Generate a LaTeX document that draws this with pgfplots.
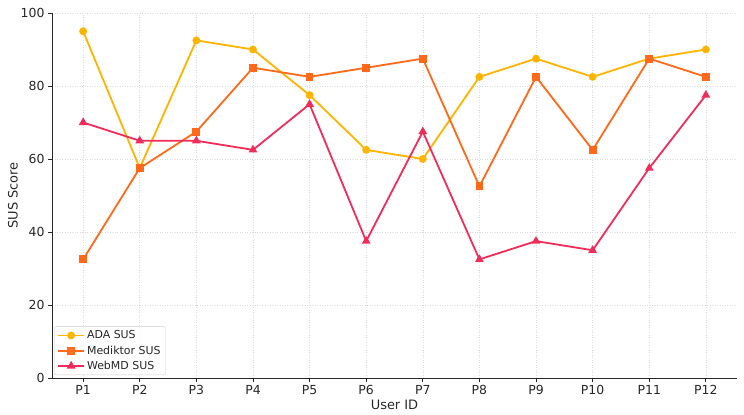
\documentclass[border=0pt]{standalone}
\usepackage{pgfplots}
\pgfplotsset{compat=1.18}
\usepackage{fontspec}
\setmainfont{DejaVu Sans}
\definecolor{adacol}{RGB}{255,180,0}
\definecolor{medcol}{RGB}{255,105,25}
\definecolor{webcol}{RGB}{240,45,90}
\definecolor{txt}{RGB}{40,40,40}
\begin{document}
\begin{tikzpicture}
\begin{axis}[
	scale only axis,
	width=685bp, height=365bp,
	xmin=0.45, xmax=12.55, ymin=0, ymax=100,
	xtick={1,...,12},
	xticklabels={P1,P2,P3,P4,P5,P6,P7,P8,P9,P10,P11,P12},
	ytick={0,20,40,60,80,100},
	axis x line*=bottom, axis y line*=left,
	axis line style={txt, line width=0.8bp},
	tick align=outside, major tick length=4bp,
	tick style={txt, line width=0.8bp},
	grid=major,
	grid style={dash pattern=on 1bp off 1.5bp, black!14, line width=0.6bp},
	/pgf/number format/assume math mode=true,
	ticklabel style={font=\fontsize{12.5}{14}\selectfont, text=txt},
	xlabel={User ID}, ylabel={SUS Score},
	label style={font=\fontsize{13}{15}\selectfont, text=txt},
	xlabel style={yshift=2bp},
	ylabel style={yshift=-4bp},
	legend cell align=left,
	legend style={at={(rel axis cs:0.003,0.008)}, anchor=south west,
		font=\fontsize{11}{12.5}\selectfont, text=txt,
		draw=black!20, rounded corners=2bp, fill=white, fill opacity=0.85, text opacity=1,
		row sep=1.5bp, inner xsep=3bp, inner ysep=2bp},
	legend image code/.code={\draw[mark repeat=2,mark phase=2] plot coordinates {(0bp,0bp) (13bp,0bp) (26bp,0bp)};},
	every axis plot/.append style={line width=1.8bp},
]
	% ADA
	\addplot[color=adacol, mark=*, mark size=3bp] coordinates {
		(1,95) (2,57.5) (3,92.5) (4,90) (5,77.5) (6,62.5)
		(7,60) (8,82.5) (9,87.5) (10,82.5) (11,87.5) (12,90)
	};
	% Mediktor
	\addplot[color=medcol, mark=square*, mark size=3bp] coordinates {
		(1,32.5) (2,57.5) (3,67.5) (4,85) (5,82.5) (6,85)
		(7,87.5) (8,52.5) (9,82.5) (10,62.5) (11,87.5) (12,82.5)
	};
	% WebMD
	\addplot[color=webcol, mark=triangle*, mark size=3.3bp] coordinates {
		(1,70) (2,65) (3,65) (4,62.5) (5,75) (6,37.5)
		(7,67.5) (8,32.5) (9,37.5) (10,35) (11,57.5) (12,77.5)
	};
	\legend{ADA SUS, Mediktor SUS, WebMD SUS}
\end{axis}
\path ([shift={(-52bp,-37bp)}]current axis.south west) rectangle ([shift={(7bp,13bp)}]current axis.north east);
\end{tikzpicture}
\end{document}
